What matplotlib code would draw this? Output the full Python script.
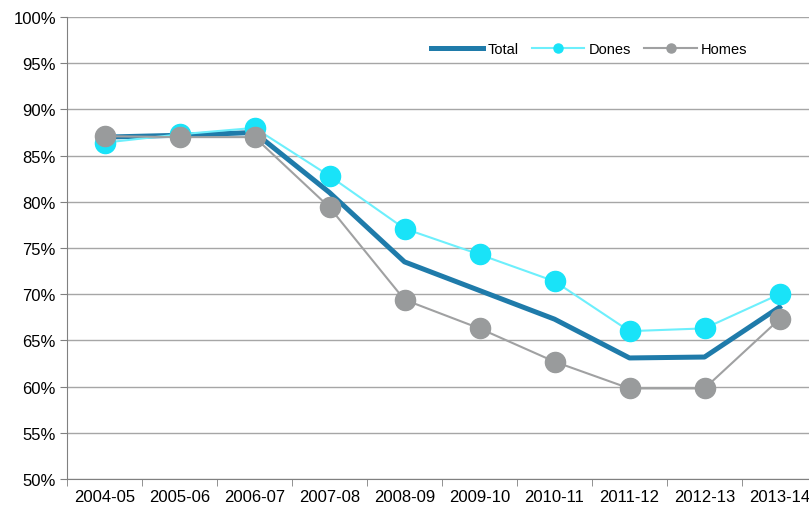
import numpy as np
import matplotlib.pyplot as plt
from matplotlib.ticker import FixedLocator, FuncFormatter

plt.rcParams['font.family'] = ['Liberation Sans', 'DejaVu Sans']

years = ['2004-05', '2005-06', '2006-07', '2007-08', '2008-09',
         '2009-10', '2010-11', '2011-12', '2012-13', '2013-14']
total = [87.0, 87.2, 87.5, 81.0, 73.5, 70.4, 67.3, 63.1, 63.2, 68.6]
dones = [86.4, 87.3, 88.0, 82.8, 77.1, 74.3, 71.4, 66.0, 66.3, 70.0]
homes = [87.1, 87.0, 87.0, 79.4, 69.4, 66.3, 62.7, 59.8, 59.8, 67.3]

fig = plt.figure(figsize=(8.09, 5.06), dpi=100)
ax = fig.add_axes([67/809, 26/506, 750/809, 462/506])

x = np.arange(len(years))
ax.plot(x, total, color='#1F7BAA', lw=3.6, label='Total', zorder=2)
ax.plot(x, dones, color='#6DEFFC', lw=1.5, marker='o', ms=14.5,
        mfc='#19E3F8', mec='#19E3F8', label='Dones', zorder=3)
ax.plot(x, homes, color='#A0A1A2', lw=1.5, marker='o', ms=14.5,
        mfc='#999B9C', mec='#999B9C', label='Homes', zorder=4)

ax.set_xlim(-0.5, len(years) - 0.5)
ax.set_ylim(50, 100)
ax.set_yticks(np.arange(50, 101, 5))
ax.yaxis.set_major_formatter(FuncFormatter(lambda v, p: f'{v:.0f}%'))
ax.set_xticks(x)
ax.set_xticklabels(years)
ax.xaxis.set_minor_locator(FixedLocator(np.arange(-0.5, len(years), 1)))
ax.tick_params(axis='x', which='major', length=0, labelsize=12, pad=7)
ax.tick_params(axis='x', which='minor', length=5, color='#808080', direction='out')
ax.tick_params(axis='y', length=5, color='#808080', labelsize=12, direction='out', pad=3)

ax.grid(True, axis='y', color='#A6A6A6', lw=1)
ax.set_axisbelow(True)
for s in ['top', 'right']:
    ax.spines[s].set_visible(False)
for s in ['left', 'bottom']:
    ax.spines[s].set_color('#808080')

ax.legend(loc='upper right', bbox_to_anchor=(0.925, 0.975), ncol=3, frameon=False,
          markerscale=0.45, fontsize=10.5, handlelength=3.6, columnspacing=0.9,
          handletextpad=0.3)

fig.savefig('out.png', dpi=100)
